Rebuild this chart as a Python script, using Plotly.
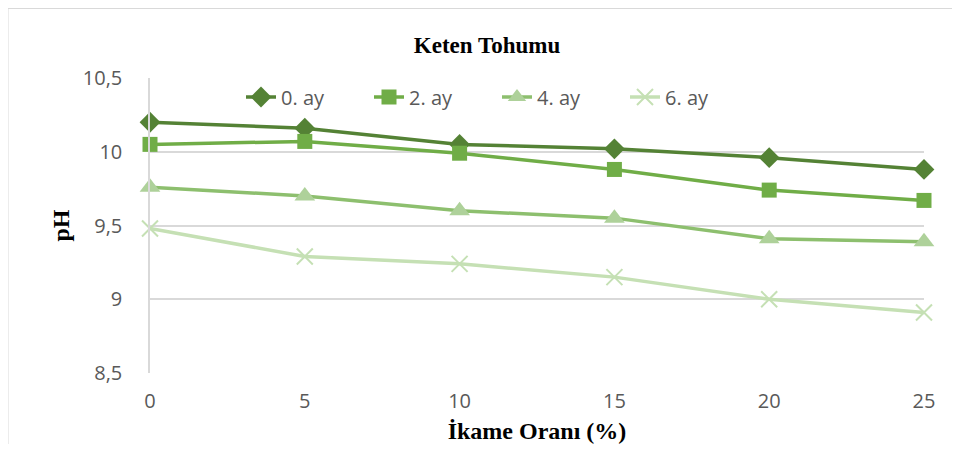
import plotly.graph_objects as go

x_vals = [0, 5, 10, 15, 20, 25]
ay0 = [10.20, 10.16, 10.05, 10.02, 9.96, 9.88]
ay2 = [10.05, 10.07, 9.99, 9.88, 9.74, 9.67]
ay4 = [9.76, 9.70, 9.60, 9.55, 9.41, 9.39]
ay6 = [9.48, 9.29, 9.24, 9.15, 9.00, 8.91]
names = ["0. ay", "2. ay", "4. ay", "6. ay"]
y_ticks = [8.5, 9, 9.5, 10, 10.5]
y_ticktext = ["8,5", "9", "9,5", "10", "10,5"]

line_colors = ["#548235", "#70AD47", "#8DBF6E", "#C5E0B4"]
marker_colors = ["#548235", "#70AD47", "#AED19A", "#C5E0B4"]
symbols = ["diamond", "square", "triangle-up", "x-thin"]
sizes = [16, 15, 18, 16]

# page body has an 8px margin; figure placed at (8, 8)
OFF = 8
W, H = 944, 436
PL, PR, PT, PB = 150, 924, 78, 373  # target plot-area edges in window px
pw, ph = PR - PL, PB - PT


def px(xw):
    return (xw - PL) / pw


def py(yw):
    return (PB - yw) / ph


fig = go.Figure()
for name, ys, lc, mc, sym, sz in zip(names, [ay0, ay2, ay4, ay6], line_colors, marker_colors, symbols, sizes):
    marker = dict(symbol=sym, size=sz, color=mc)
    if sym == "x-thin":
        marker["line"] = dict(color=mc, width=2)
    fig.add_trace(go.Scatter(x=x_vals, y=ys, name=name, mode="lines+markers",
                             line=dict(color=lc, width=3.5), marker=marker,
                             cliponaxis=False))

fig.update_layout(
    width=W, height=H,
    margin=dict(l=PL - OFF, r=OFF + W - PR, t=PT - OFF, b=OFF + H - PB, pad=0,
                autoexpand=False),
    paper_bgcolor="white", plot_bgcolor="white",
    title=dict(text="<b>Keten Tohumu</b>", x=px(487), xref="paper", xanchor="center",
               y=1 - (45 - OFF) / H, yanchor="middle",
               font=dict(family="Liberation Serif", size=23, color="black")),
    xaxis=dict(range=[0, 25], tickvals=x_vals, showgrid=False, zeroline=False,
               showline=False, ticks="", ticklabelstandoff=14, automargin=False,
               tickfont=dict(family="Open Sans", size=20, color="#595959"),
               title=dict(text="<b>İkame Oranı (%)</b>", standoff=12,
                          font=dict(family="Liberation Serif", size=24, color="black"))),
    yaxis=dict(range=[8.5, 10.5], tickvals=y_ticks, ticktext=y_ticktext,
               showgrid=True, gridcolor="#D9D9D9", gridwidth=1.5, zeroline=False,
               showline=True, linecolor="#D9D9D9", linewidth=1.5, ticks="",
               ticklabelstandoff=22, automargin=False,
               tickfont=dict(family="Open Sans", size=20, color="#595959"),
               title=dict(text="<b>pH</b>", standoff=6,
                          font=dict(family="Liberation Serif", size=24, color="black"))),
    legend=dict(orientation="h", x=px(241), xanchor="left",
                y=py(97), yanchor="middle", entrywidth=83,
                font=dict(family="Open Sans", size=20, color="#595959"),
                bgcolor="rgba(0,0,0,0)"),
    showlegend=True,
)

# chart outer border (light gray)
fig.add_shape(type="line", xref="paper", yref="paper",
              x0=px(7), x1=px(7), y0=py(7), y1=py(470),
              line=dict(color="#D9D9D9", width=3))
fig.add_shape(type="line", xref="paper", yref="paper",
              x0=px(6), x1=px(980), y0=py(8), y1=py(8),
              line=dict(color="#D9D9D9", width=2))

fig.write_html("out.html")
